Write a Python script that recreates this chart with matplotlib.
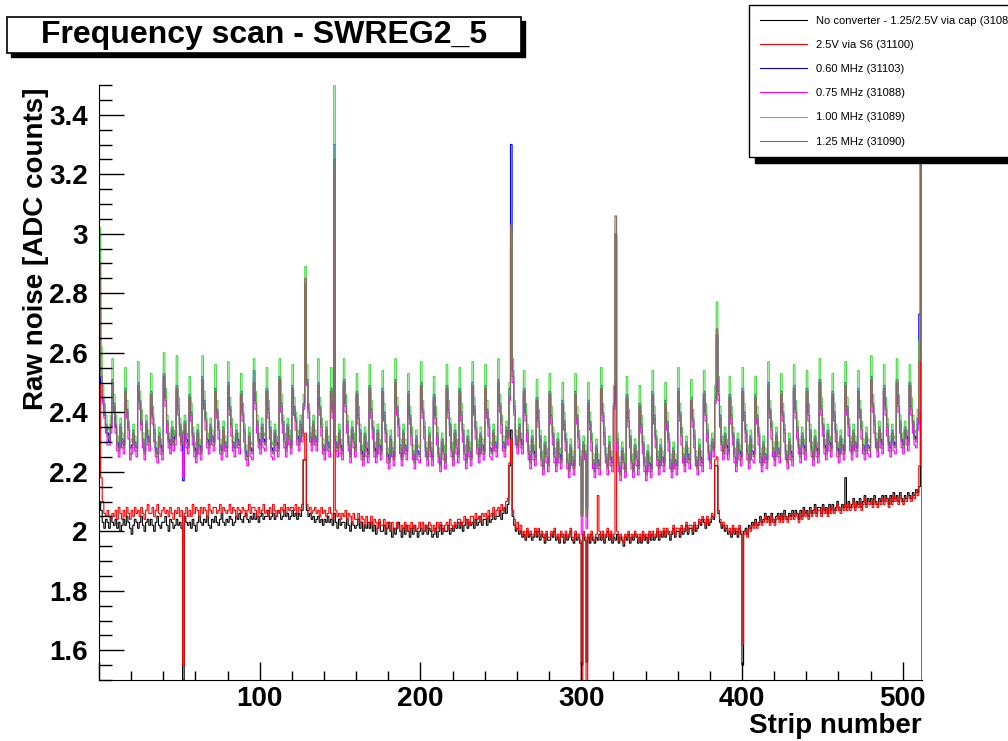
import numpy as np
import matplotlib.pyplot as plt
from matplotlib.patches import Rectangle
from matplotlib.ticker import MultipleLocator

# raw noise per strip, in units of 0.01 ADC counts (8 strips per row)
noise_no_conv = [
    210, 207, 203, 201, 204, 203, 201, 205,  203, 202, 204, 201, 203, 200, 202, 204,
    202, 205, 203, 201, 199, 202, 204, 203,  201, 203, 205, 202, 200, 203, 204, 202,
    204, 202, 200, 203, 205, 202, 201, 203,  203, 205, 202, 200, 204, 203, 201, 202,
    204, 202, 203, 201, 150, 205, 203, 202,  203, 201, 204, 202, 200, 203, 205, 203,
    202, 204, 203, 205, 202, 201, 204, 203,  205, 203, 202, 204, 206, 203, 202, 204,
    203, 205, 204, 202, 203, 205, 204, 206,  204, 203, 205, 206, 204, 203, 205, 204,
    206, 204, 205, 203, 205, 206, 204, 205,  205, 207, 204, 205, 206, 204, 205, 207,
    206, 204, 205, 207, 205, 206, 204, 205,  207, 205, 206, 204, 206, 205, 207, 224,
    224, 207, 205, 206, 204, 205, 203, 204,  205, 203, 204, 202, 204, 203, 205, 203,
    204, 202, 206, 203, 201, 204, 202, 203,  203, 201, 204, 202, 200, 203, 202, 201,
    202, 204, 201, 203, 200, 202, 201, 203,  201, 203, 200, 202, 199, 201, 203, 200,
    200, 202, 199, 201, 203, 200, 198, 201,  199, 201, 203, 200, 198, 201, 199, 202,
    200, 198, 201, 199, 202, 200, 198, 200,  201, 199, 200, 202, 199, 201, 200, 198,
    199, 201, 198, 200, 202, 199, 201, 200,  200, 202, 199, 201, 200, 202, 201, 203,
    201, 203, 200, 202, 204, 201, 203, 202,  203, 201, 204, 202, 203, 205, 202, 204,
    204, 202, 205, 203, 204, 206, 204, 205,  205, 207, 204, 206, 208, 206, 209, 222,
    234, 205, 202, 200, 201, 199, 200, 198,  199, 197, 200, 198, 199, 197, 198, 200,
    198, 200, 197, 199, 198, 196, 199, 197,  197, 199, 198, 200, 197, 198, 196, 199,
    198, 196, 199, 197, 198, 200, 197, 196,  199, 197, 198, 196, 155, 199, 197, 156,
    198, 196, 199, 197, 196, 198, 197, 199,  197, 199, 196, 198, 200, 197, 199, 196,
    198, 197, 199, 196, 198, 197, 195, 198,  197, 199, 196, 198, 197, 199, 198, 196,
    198, 196, 199, 197, 198, 196, 199, 197,  199, 197, 198, 200, 197, 199, 198, 200,
    198, 200, 199, 197, 199, 201, 198, 200,  200, 198, 201, 199, 200, 202, 199, 201,
    201, 199, 202, 200, 201, 203, 202, 204,  203, 201, 204, 202, 203, 205, 204, 222,
    222, 206, 203, 201, 202, 200, 201, 199,  200, 198, 201, 199, 200, 198, 201, 199,
    155, 200, 201, 199, 202, 201, 203, 202,  204, 202, 203, 205, 203, 204, 206, 204,
    205, 203, 206, 204, 203, 205, 206, 204,  206, 204, 207, 205, 204, 206, 205, 207,
    205, 207, 206, 204, 207, 205, 208, 206,  207, 205, 208, 206, 207, 209, 206, 208,
    208, 206, 209, 207, 208, 206, 209, 207,  209, 207, 208, 210, 208, 207, 209, 208,
    218, 208, 210, 208, 209, 211, 208, 210,  209, 211, 208, 210, 212, 209, 211, 210,
    211, 209, 212, 210, 209, 211, 210, 212,  210, 212, 211, 209, 212, 210, 213, 211,
    212, 210, 213, 211, 210, 212, 211, 213,  212, 211, 213, 212, 214, 213, 215, 240,
]

noise_s6 = [
    274, 218, 210, 206, 205, 207, 205, 204,  206, 205, 207, 204, 208, 206, 204, 207,
    205, 208, 206, 204, 207, 205, 208, 206,  207, 205, 208, 206, 204, 207, 209, 206,
    206, 208, 205, 207, 209, 206, 205, 207,  208, 206, 207, 205, 208, 206, 204, 207,
    206, 208, 205, 207, 155, 206, 208, 205,  207, 205, 209, 206, 208, 207, 205, 208,
    206, 208, 207, 205, 209, 207, 206, 208,  208, 206, 207, 209, 206, 208, 207, 206,
    207, 209, 206, 208, 207, 205, 208, 207,  206, 208, 207, 205, 207, 209, 206, 208,
    208, 207, 205, 208, 206, 207, 209, 206,  207, 205, 208, 206, 209, 207, 205, 207,
    206, 208, 207, 209, 206, 208, 207, 208,  208, 207, 209, 206, 208, 207, 209, 224,
    233, 209, 207, 208, 206, 207, 208, 206,  207, 205, 208, 206, 207, 205, 206, 208,
    206, 204, 300, 207, 205, 206, 204, 206,  205, 207, 204, 206, 205, 203, 206, 204,
    204, 206, 203, 205, 204, 202, 205, 203,  203, 205, 202, 204, 203, 201, 204, 202,
    202, 204, 201, 203, 202, 200, 203, 201,  201, 203, 202, 200, 202, 201, 203, 200,
    202, 200, 203, 201, 202, 200, 201, 203,  201, 203, 200, 202, 201, 203, 202, 200,
    202, 200, 203, 201, 203, 202, 200, 202,  203, 201, 204, 202, 201, 203, 202, 204,
    204, 202, 203, 205, 203, 204, 202, 205,  205, 203, 206, 204, 205, 203, 206, 205,
    206, 204, 207, 205, 206, 208, 205, 207,  208, 206, 209, 207, 208, 210, 211, 223,
    231, 207, 204, 201, 203, 200, 202, 199,  200, 198, 201, 199, 200, 198, 199, 201,
    199, 201, 198, 200, 199, 197, 200, 198,  198, 200, 199, 201, 198, 199, 197, 200,
    199, 197, 200, 198, 199, 201, 198, 197,  200, 198, 199, 197, 145, 200, 198, 145,
    199, 197, 200, 198, 197, 199, 212, 200,  198, 200, 197, 199, 201, 198, 200, 197,
    199, 250, 200, 197, 199, 198, 196, 199,  198, 200, 197, 199, 198, 200, 199, 197,
    199, 197, 200, 198, 199, 197, 200, 198,  200, 198, 199, 201, 198, 200, 199, 201,
    199, 201, 200, 198, 200, 202, 199, 201,  201, 199, 202, 200, 201, 203, 200, 202,
    202, 200, 203, 201, 202, 204, 203, 205,  204, 202, 205, 203, 204, 206, 205, 224,
    225, 207, 204, 202, 203, 201, 202, 200,  201, 199, 202, 200, 201, 199, 202, 200,
    162, 199, 200, 198, 201, 200, 202, 201,  203, 201, 202, 204, 202, 203, 205, 203,
    204, 202, 205, 203, 202, 204, 205, 203,  205, 203, 206, 204, 203, 205, 204, 206,
    204, 206, 205, 203, 206, 204, 207, 205,  206, 204, 207, 205, 206, 208, 205, 207,
    207, 205, 208, 206, 207, 205, 208, 206,  208, 206, 207, 209, 207, 206, 208, 207,
    209, 207, 209, 207, 208, 210, 207, 209,  208, 210, 207, 209, 211, 208, 210, 209,
    210, 208, 211, 209, 208, 210, 209, 211,  209, 211, 210, 208, 211, 209, 212, 210,
    211, 209, 212, 210, 209, 211, 210, 212,  211, 210, 212, 211, 213, 212, 222, 360,
]

noise_060 = [
    280, 250, 244, 239, 235, 233, 230, 235,  251, 243, 235, 230, 228, 236, 231, 229,
    248, 241, 235, 228, 229, 234, 230, 228,  250, 244, 236, 231, 227, 237, 232, 230,
    247, 239, 234, 228, 226, 233, 229, 227,  253, 245, 237, 231, 229, 235, 230, 232,
    249, 242, 236, 230, 217, 237, 231, 229,  246, 240, 233, 228, 226, 234, 229, 227,
    252, 244, 238, 231, 229, 236, 232, 230,  248, 241, 235, 229, 227, 235, 230, 228,
    250, 242, 236, 230, 228, 234, 231, 229,  247, 240, 234, 227, 225, 233, 228, 227,
    254, 244, 237, 231, 229, 236, 231, 230,  248, 241, 235, 228, 227, 234, 230, 228,
    252, 243, 237, 231, 228, 236, 232, 229,  249, 242, 238, 232, 230, 237, 233, 243,
    283, 251, 241, 233, 230, 237, 232, 230,  250, 242, 236, 229, 227, 235, 230, 228,
    248, 241, 330, 230, 228, 234, 229, 227,  251, 243, 237, 230, 226, 235, 231, 228,
    247, 239, 234, 227, 225, 233, 228, 226,  249, 241, 235, 228, 226, 234, 229, 227,
    248, 240, 234, 226, 224, 232, 228, 225,  251, 242, 236, 229, 225, 234, 229, 227,
    247, 239, 233, 227, 224, 232, 227, 226,  250, 241, 235, 228, 225, 233, 228, 225,
    246, 239, 233, 226, 223, 231, 227, 224,  249, 241, 236, 228, 225, 234, 229, 226,
    248, 240, 234, 227, 224, 232, 228, 225,  250, 242, 235, 229, 226, 233, 229, 227,
    249, 241, 236, 228, 227, 234, 230, 228,  251, 243, 237, 230, 228, 235, 232, 248,
    330, 254, 242, 232, 229, 236, 231, 229,  248, 240, 234, 227, 224, 232, 227, 225,
    245, 238, 232, 225, 222, 230, 226, 223,  247, 239, 233, 226, 223, 231, 226, 224,
    244, 237, 231, 224, 221, 229, 225, 222,  247, 239, 232, 225, 206, 230, 227, 208,
    244, 237, 231, 224, 221, 229, 224, 222,  249, 240, 233, 226, 222, 230, 225, 223,
    243, 300, 231, 223, 220, 228, 224, 221,  246, 238, 232, 224, 221, 229, 225, 222,
    243, 236, 230, 223, 220, 227, 223, 221,  247, 239, 232, 225, 222, 229, 225, 223,
    244, 237, 231, 224, 221, 228, 224, 222,  248, 240, 233, 226, 223, 230, 226, 224,
    245, 238, 232, 225, 222, 229, 225, 223,  247, 240, 234, 227, 224, 231, 228, 245,
    266, 247, 239, 230, 227, 233, 229, 227,  246, 239, 233, 226, 223, 231, 227, 225,
    248, 240, 234, 227, 224, 232, 227, 226,  246, 239, 233, 226, 223, 230, 226, 224,
    250, 241, 235, 228, 225, 233, 228, 226,  247, 240, 234, 227, 224, 231, 227, 225,
    249, 241, 235, 229, 226, 233, 229, 227,  248, 240, 234, 228, 225, 232, 228, 226,
    251, 242, 236, 229, 227, 234, 230, 228,  247, 240, 234, 228, 226, 232, 229, 227,
    250, 242, 236, 230, 227, 234, 230, 228,  248, 241, 235, 229, 227, 233, 229, 228,
    252, 243, 237, 231, 228, 235, 231, 229,  249, 242, 236, 230, 228, 234, 230, 229,
    251, 243, 237, 231, 229, 235, 232, 230,  250, 242, 237, 232, 231, 236, 273, 350,
]

noise_075 = [
    297, 255, 243, 238, 233, 229, 229, 233,  249, 240, 233, 227, 225, 232, 228, 226,
    246, 238, 231, 224, 226, 231, 227, 225,  248, 241, 234, 228, 224, 233, 229, 227,
    245, 236, 230, 225, 223, 230, 226, 224,  251, 242, 233, 228, 226, 232, 227, 229,
    247, 239, 232, 227, 218, 234, 228, 226,  244, 237, 229, 225, 223, 231, 226, 224,
    250, 241, 234, 228, 226, 233, 229, 227,  246, 238, 231, 226, 224, 232, 227, 225,
    248, 239, 232, 227, 225, 231, 228, 226,  245, 237, 230, 224, 222, 230, 225, 224,
    249, 241, 233, 228, 226, 233, 228, 227,  246, 238, 231, 225, 224, 231, 227, 225,
    250, 240, 233, 228, 225, 233, 229, 226,  247, 239, 234, 229, 227, 234, 230, 241,
    282, 249, 238, 230, 227, 234, 229, 227,  248, 239, 232, 226, 224, 232, 227, 225,
    246, 238, 320, 227, 225, 231, 226, 224,  249, 240, 233, 227, 223, 232, 228, 225,
    245, 236, 230, 224, 222, 230, 225, 223,  247, 238, 231, 225, 223, 231, 226, 224,
    246, 237, 230, 223, 221, 229, 225, 222,  249, 239, 232, 226, 222, 231, 226, 224,
    245, 236, 229, 224, 221, 229, 224, 223,  248, 238, 231, 225, 222, 230, 225, 222,
    244, 236, 229, 223, 220, 228, 224, 221,  247, 238, 232, 225, 222, 231, 226, 223,
    246, 237, 230, 224, 221, 229, 225, 222,  248, 239, 231, 226, 223, 230, 226, 224,
    247, 238, 232, 225, 224, 231, 227, 225,  249, 240, 233, 227, 225, 232, 229, 244,
    295, 250, 239, 229, 226, 233, 228, 226,  246, 237, 230, 224, 221, 229, 224, 222,
    243, 235, 228, 222, 219, 227, 223, 220,  245, 236, 229, 223, 220, 228, 223, 221,
    242, 234, 227, 221, 218, 226, 222, 219,  245, 236, 228, 222, 199, 227, 224, 201,
    242, 234, 227, 221, 218, 226, 221, 219,  247, 237, 229, 223, 219, 227, 222, 220,
    241, 300, 227, 220, 217, 225, 221, 218,  244, 235, 228, 221, 218, 226, 222, 219,
    241, 233, 226, 220, 217, 224, 220, 218,  245, 236, 228, 222, 219, 226, 222, 220,
    242, 234, 227, 221, 218, 225, 221, 219,  246, 237, 229, 223, 220, 227, 223, 221,
    243, 235, 228, 222, 219, 226, 222, 220,  245, 237, 230, 224, 221, 228, 225, 243,
    265, 244, 235, 227, 224, 230, 226, 224,  244, 236, 229, 223, 220, 228, 224, 222,
    246, 237, 230, 224, 221, 229, 224, 223,  244, 236, 229, 223, 220, 227, 223, 221,
    248, 238, 231, 225, 222, 230, 225, 223,  245, 237, 230, 224, 221, 228, 224, 222,
    247, 238, 231, 226, 223, 230, 226, 224,  246, 237, 230, 225, 222, 229, 225, 223,
    249, 239, 232, 226, 224, 231, 227, 225,  245, 237, 230, 225, 223, 229, 226, 224,
    248, 239, 232, 227, 224, 231, 227, 225,  246, 238, 231, 226, 224, 230, 226, 225,
    250, 240, 233, 228, 225, 232, 228, 226,  247, 239, 232, 227, 225, 231, 227, 226,
    249, 240, 233, 228, 226, 232, 229, 227,  248, 239, 233, 229, 228, 234, 262, 350,
]

noise_100 = [
    302, 262, 249, 243, 239, 235, 234, 239,  258, 246, 239, 232, 230, 238, 233, 231,
    255, 244, 237, 230, 231, 236, 232, 230,  257, 247, 241, 233, 229, 239, 234, 232,
    253, 242, 236, 230, 228, 235, 231, 229,  260, 248, 239, 233, 231, 237, 232, 234,
    259, 245, 238, 232, 234, 239, 233, 231,  252, 243, 235, 230, 228, 236, 231, 229,
    259, 247, 240, 233, 231, 238, 234, 232,  256, 244, 237, 231, 229, 237, 232, 230,
    257, 245, 238, 232, 230, 236, 233, 231,  253, 243, 236, 229, 227, 235, 230, 229,
    258, 247, 239, 233, 231, 238, 233, 232,  255, 244, 237, 230, 229, 236, 232, 230,
    258, 246, 239, 233, 230, 238, 234, 231,  256, 245, 240, 234, 232, 239, 235, 246,
    289, 256, 243, 235, 232, 239, 234, 232,  258, 245, 238, 231, 229, 237, 232, 230,
    255, 244, 355, 232, 230, 236, 231, 229,  258, 246, 239, 232, 228, 237, 233, 230,
    253, 242, 236, 229, 227, 235, 230, 228,  256, 244, 237, 230, 228, 236, 231, 229,
    254, 243, 236, 228, 226, 234, 230, 227,  258, 245, 238, 231, 227, 236, 231, 229,
    253, 242, 235, 229, 226, 234, 229, 228,  257, 244, 237, 230, 227, 235, 230, 227,
    252, 242, 235, 228, 225, 233, 229, 226,  256, 244, 238, 230, 227, 236, 231, 228,
    255, 243, 236, 229, 226, 234, 230, 227,  257, 245, 237, 231, 228, 235, 231, 229,
    256, 244, 238, 230, 229, 236, 232, 230,  258, 246, 239, 232, 230, 237, 234, 250,
    300, 258, 244, 234, 231, 238, 233, 231,  254, 243, 236, 229, 226, 234, 229, 227,
    251, 241, 234, 227, 224, 232, 228, 225,  253, 242, 235, 228, 225, 233, 228, 226,
    250, 240, 233, 226, 223, 231, 227, 224,  253, 242, 234, 227, 205, 232, 229, 207,
    250, 240, 233, 226, 223, 231, 226, 224,  255, 243, 235, 228, 224, 232, 227, 225,
    249, 300, 233, 225, 222, 230, 226, 223,  252, 241, 234, 226, 223, 231, 227, 224,
    249, 239, 232, 225, 222, 229, 225, 223,  254, 242, 234, 227, 224, 231, 227, 225,
    250, 240, 233, 226, 223, 230, 226, 224,  255, 243, 235, 228, 225, 232, 228, 226,
    251, 241, 234, 227, 224, 231, 227, 225,  254, 243, 236, 229, 226, 233, 230, 249,
    277, 252, 242, 232, 229, 235, 231, 229,  252, 242, 235, 228, 225, 233, 229, 227,
    255, 243, 236, 229, 226, 234, 229, 228,  252, 242, 235, 228, 225, 232, 228, 226,
    257, 244, 237, 230, 227, 235, 230, 228,  253, 243, 236, 229, 226, 233, 229, 227,
    256, 244, 237, 231, 228, 235, 231, 229,  254, 243, 236, 230, 227, 234, 230, 228,
    258, 245, 238, 231, 229, 236, 232, 230,  253, 243, 236, 230, 228, 234, 231, 229,
    257, 245, 238, 232, 229, 236, 232, 230,  254, 244, 237, 231, 229, 235, 231, 230,
    259, 246, 239, 233, 230, 237, 233, 231,  256, 245, 238, 232, 230, 236, 232, 231,
    258, 246, 239, 233, 231, 237, 234, 232,  256, 245, 239, 234, 233, 241, 264, 360,
]

noise_125 = [
    290, 252, 245, 240, 236, 232, 231, 236,  250, 242, 236, 229, 227, 235, 230, 228,
    247, 240, 234, 226, 228, 233, 229, 227,  249, 243, 237, 230, 226, 236, 231, 229,
    246, 238, 233, 227, 225, 232, 228, 226,  252, 244, 236, 230, 228, 234, 229, 231,
    248, 241, 235, 229, 233, 236, 230, 228,  245, 239, 232, 227, 225, 233, 228, 226,
    251, 243, 237, 230, 228, 235, 231, 229,  247, 240, 234, 228, 226, 234, 229, 227,
    249, 241, 235, 229, 227, 233, 230, 228,  246, 239, 233, 226, 224, 232, 227, 226,
    250, 243, 236, 230, 228, 235, 230, 229,  247, 240, 234, 227, 226, 233, 229, 227,
    251, 242, 236, 230, 227, 235, 231, 228,  248, 241, 237, 231, 229, 236, 232, 242,
    285, 250, 240, 232, 229, 236, 231, 229,  249, 241, 235, 228, 226, 234, 229, 227,
    247, 240, 325, 229, 227, 233, 228, 226,  250, 242, 236, 229, 225, 234, 230, 227,
    246, 238, 233, 226, 224, 232, 227, 225,  248, 240, 234, 227, 225, 233, 228, 226,
    247, 239, 233, 225, 223, 231, 227, 224,  250, 241, 235, 228, 224, 233, 228, 226,
    246, 238, 232, 226, 223, 231, 226, 225,  249, 240, 234, 227, 224, 232, 227, 224,
    245, 238, 232, 225, 222, 230, 226, 223,  248, 240, 235, 227, 224, 233, 228, 225,
    247, 239, 233, 226, 223, 231, 227, 224,  249, 241, 234, 228, 225, 232, 228, 226,
    248, 240, 235, 227, 226, 233, 229, 227,  250, 242, 236, 229, 227, 234, 231, 245,
    303, 252, 241, 231, 228, 235, 230, 228,  247, 239, 233, 226, 223, 231, 226, 224,
    244, 237, 231, 224, 221, 229, 225, 222,  246, 238, 232, 225, 222, 230, 225, 223,
    243, 236, 230, 223, 220, 228, 224, 221,  246, 238, 231, 224, 205, 229, 226, 205,
    243, 236, 230, 223, 220, 228, 223, 221,  248, 239, 232, 225, 221, 229, 224, 222,
    242, 306, 230, 222, 219, 227, 223, 220,  245, 237, 231, 223, 220, 228, 224, 221,
    242, 235, 229, 222, 219, 226, 222, 220,  246, 238, 231, 224, 221, 228, 224, 222,
    243, 236, 230, 223, 220, 227, 223, 221,  247, 239, 232, 225, 222, 229, 225, 223,
    244, 237, 231, 224, 221, 228, 224, 222,  246, 239, 233, 226, 223, 230, 227, 244,
    268, 246, 238, 229, 226, 232, 228, 226,  245, 238, 232, 225, 222, 230, 226, 224,
    247, 239, 233, 226, 223, 231, 226, 225,  245, 238, 232, 225, 222, 229, 225, 223,
    249, 240, 234, 227, 224, 232, 227, 225,  246, 239, 233, 226, 223, 230, 226, 224,
    248, 240, 234, 228, 225, 232, 228, 226,  247, 239, 233, 227, 224, 231, 227, 225,
    250, 241, 235, 228, 226, 233, 229, 227,  246, 239, 233, 227, 225, 231, 228, 226,
    249, 241, 235, 229, 226, 233, 229, 227,  247, 240, 234, 228, 226, 232, 228, 227,
    251, 242, 236, 230, 227, 234, 230, 228,  248, 241, 235, 229, 227, 233, 229, 228,
    250, 242, 236, 230, 228, 234, 231, 229,  249, 241, 236, 231, 230, 238, 257, 360,
]

labels = ["No converter - 1.25/2.5V via cap (31087)", "2.5V via S6 (31100)",
          "0.60 MHz (31103)", "0.75 MHz (31088)", "1.00 MHz (31089)", "1.25 MHz (31090)"]
colors = ["black", "#ff0000", "#0000ff", "#ff00ff", "#44d844", "#876657"]
series = [noise_no_conv, noise_s6, noise_060, noise_075, noise_100, noise_125]

plt.rcParams['font.family'] = ['Liberation Sans', 'DejaVu Sans']

fig = plt.figure(figsize=(10.08, 7.41), dpi=100)
ax = fig.add_axes([99/1008, 61/741, 823/1008, 595/741])

for vals, col, lab in zip(series, colors, labels):
    y = np.array(vals) / 100.0
    edges = np.arange(len(y) + 1)
    ax.stairs(y, edges, baseline=1.0, color=col, lw=0.8, label=lab)

ax.set_xlim(0, 512)
ax.set_ylim(1.5, 3.5)
ax.xaxis.set_major_locator(MultipleLocator(100))
ax.xaxis.set_minor_locator(MultipleLocator(20))
ax.yaxis.set_major_locator(MultipleLocator(0.2))
ax.yaxis.set_minor_locator(MultipleLocator(0.05))
ax.tick_params(axis='y', which='major', direction='in', length=18, width=1, pad=8, labelsize=20)
ax.tick_params(axis='y', which='minor', direction='in', length=9, width=1)
ax.tick_params(axis='x', which='major', direction='in', length=13, width=1, pad=4, labelsize=20)
ax.tick_params(axis='x', which='minor', direction='in', length=6.5, width=1)
# ROOT leaves the first x label (0) out
ax.xaxis.set_major_formatter(plt.FuncFormatter(lambda v, p: "" if v <= 0 else "%d" % v))
ax.yaxis.set_major_formatter(plt.FuncFormatter(lambda v, p: "%g" % round(v, 2)))
for lab in ax.get_xticklabels() + ax.get_yticklabels():
    lab.set_fontweight('bold')
ax.spines['top'].set_visible(False)
ax.spines['right'].set_visible(False)

ax.set_xlabel("Strip number", fontsize=20, fontweight='bold', loc='right')
ax.xaxis.set_label_coords(1.0, -0.055)
ax.set_ylabel("Raw noise [ADC counts]", fontsize=20, fontweight='bold', loc='top')
ax.yaxis.set_label_coords(-0.061, 0.995)

# title box with shadow
W, H = 1008.0, 741.0
fig.patches.append(Rectangle((11/W, 1 - 57/H), 514/W, 36/H, transform=fig.transFigure,
                             fc='black', ec='black', zorder=1))
fig.patches.append(Rectangle((7/W, 1 - 53/H), 514/W, 36/H, transform=fig.transFigure,
                             fc='white', ec='black', lw=1.2, zorder=2))
fig.text(264/W, 1 - 35/H, "Frequency scan - SWREG2_5", fontsize=23, fontweight='bold',
         ha='center', va='center', zorder=3)

leg = ax.legend(loc='upper left', bbox_to_anchor=(749/W, 1 - 5/H), bbox_transform=fig.transFigure,
                fontsize=8, frameon=True, fancybox=False, handlelength=4.3, handletextpad=0.8,
                labelspacing=1.28, borderpad=0.95, borderaxespad=0,
                shadow={'color': 'black', 'alpha': 1.0, 'ox': 4, 'oy': -4})
leg.get_frame().set_edgecolor('black')
leg.get_frame().set_linewidth(1.0)
leg.set_zorder(10)

fig.savefig("out.png", dpi=100, facecolor='white')
